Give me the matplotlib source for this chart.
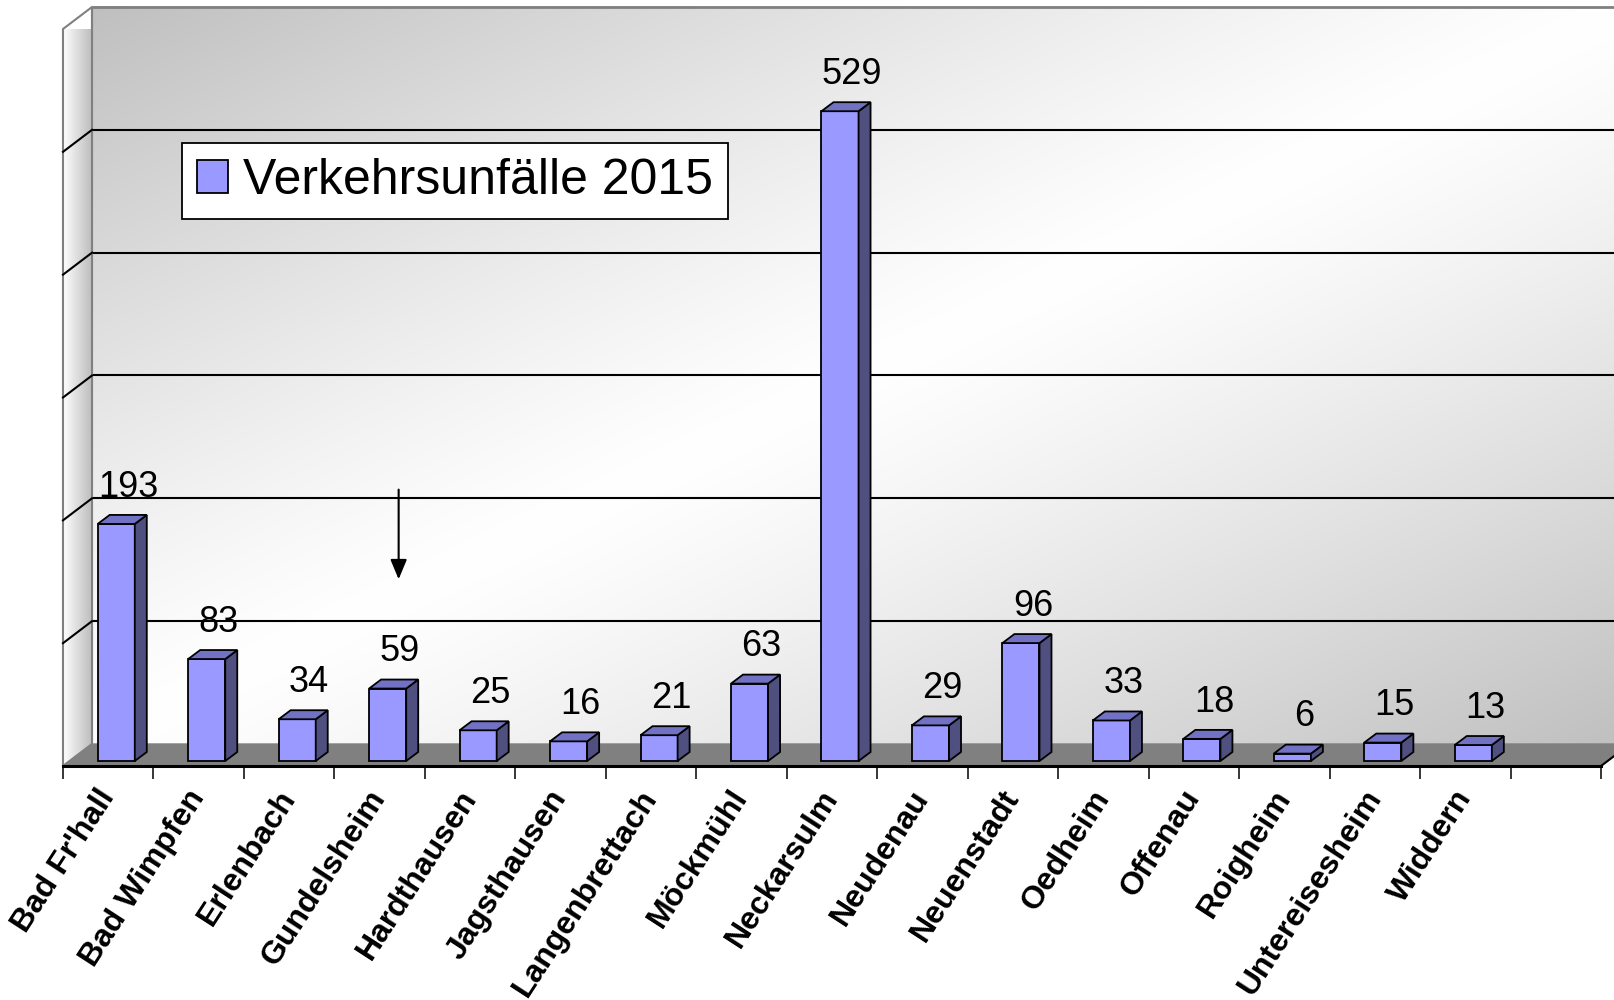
import numpy as np
import matplotlib
matplotlib.use("Agg")
import matplotlib.pyplot as plt
from matplotlib.patches import Polygon, Patch
from matplotlib.transforms import Affine2D, IdentityTransform

# Daten: Verkehrsunfälle 2015 je Gemeinde (letzte Kategorie bleibt leer)
orte = ["Bad Fr'hall", "Bad Wimpfen", "Erlenbach", "Gundelsheim", "Hardthausen",
        "Jagsthausen", "Langenbrettach", "Möckmühl", "Neckarsulm", "Neudenau",
        "Neuenstadt", "Oedheim", "Offenau", "Roigheim", "Untereisesheim", "Widdern", ""]
unfaelle = [193, 83, 34, 59, 25, 16, 21, 63, 529, 29, 96, 33, 18, 6, 15, 13]
gitter = [100, 200, 300, 400, 500]
serie = "Verkehrsunfälle 2015"

# Pfeil über Gundelsheim (Datenkoordinaten der Frontebene)
pfeil_x, pfeil_von, pfeil_bis = 3.71, 225, 152

W, H = 1614, 1000
plt.rcParams['font.family'] = ['Liberation Sans', 'DejaVu Sans']

fig = plt.figure(figsize=(W / 100, H / 100), dpi=100)
ax = fig.add_axes([63 / W, 234 / H, 1538 / W, 737 / H])
n = len(orte)
ax.set_xlim(0, n)
ax.set_ylim(0, 600)
ax.set_autoscale_on(False)
ax.patch.set_visible(False)
for s in ['top', 'right', 'left']:
    ax.spines[s].set_visible(False)
ax.spines['bottom'].set_linewidth(2.2)
ax.spines['bottom'].set_zorder(6)
ax.set_yticks([])

# Tiefenebenen (Versatz in Pixeln)
t_back = ax.transData + Affine2D().translate(29, 22)
t_front = ax.transData + Affine2D().translate(8, 5)
tiefe = np.array([12, 9])

# Rückwand mit diagonalem Verlauf
yy, xx = np.mgrid[0:1:200j, 0:1:400j]
u = (xx + yy) / 2
hell = 1 - 0.25 * np.abs(2 * u - 1) ** 1.2
ax.imshow(np.dstack([hell] * 3), extent=(0, n, 0, 600), transform=t_back,
          aspect='auto', clip_on=False, zorder=0, interpolation='bilinear')
ax.plot([0, n], [600, 600], transform=t_back, color='#808080', lw=2, clip_on=False, zorder=1)
ax.plot([0, 0], [0, 600], transform=t_back, color='#a0a0a0', lw=1.5, clip_on=False, zorder=1)
for v in gitter:
    ax.plot([0, n], [v, v], transform=t_back, color='black', lw=1.5, clip_on=False, zorder=1)

# Seitenwand
vf = ax.transData.transform([(0, 0), (0, 600)])
vb = t_back.transform([(0, 600), (0, 0)])
seite = Polygon(np.vstack([vf, vb]), closed=True, transform=IdentityTransform(),
                facecolor='none', edgecolor='#808080', lw=1.5, zorder=2, clip_on=False)
ax.add_patch(seite)
g = np.linspace(1.0, 0.82, 100) ** 1.5
img = ax.imshow(np.dstack([np.tile(g, (10, 1))] * 3),
                extent=(vf[0, 0], vb[0, 0], vf[0, 1], vb[0, 1]),
                transform=IdentityTransform(), aspect='auto', zorder=1.5,
                clip_on=True, interpolation='bilinear')
img.set_clip_path(seite)
for v in gitter:
    p = np.vstack([ax.transData.transform((0, v)), t_back.transform((0, v))])
    ax.plot(p[:, 0], p[:, 1], transform=IdentityTransform(), color='black', lw=1.5,
            clip_on=False, zorder=2)

# Boden
bf = ax.transData.transform([(0, 0), (n, 0)])
bb = t_back.transform([(n, 0), (0, 0)])
ax.add_patch(Polygon(np.vstack([bf, bb]), closed=True, transform=IdentityTransform(),
                     facecolor='#808080', edgecolor='#808080', lw=1, zorder=3, clip_on=False))
ax.plot([bf[1, 0], bb[0, 0]], [bf[1, 1], bb[0, 1]], transform=IdentityTransform(),
        color='black', lw=1.5, zorder=3, clip_on=False)

# Säulen
x = np.arange(len(unfaelle)) + 0.5
bars = ax.bar(x, unfaelle, width=0.41, transform=t_front, color='#9999ff',
              edgecolor='black', linewidth=1.3, zorder=4, clip_on=False)
for r in bars:
    x0, w, h = r.get_x(), r.get_width(), r.get_height()
    fl, fr, tr, tl = t_front.transform([(x0, 0), (x0 + w, 0), (x0 + w, h), (x0, h)])
    oben = [tl, tr, tr + tiefe, tl + tiefe]
    rechts = [fr, tr, tr + tiefe, fr + tiefe]
    for poly, col in ((rechts, '#4f4f80'), (oben, '#7272c4')):
        ax.add_patch(Polygon(poly, closed=True, transform=IdentityTransform(),
                             facecolor=col, edgecolor='black', lw=1.3, zorder=4,
                             clip_on=False, joinstyle='miter'))

# Werte über den Säulen
for xi, v in zip(x, unfaelle):
    ax.annotate(str(v), xy=(xi, v), xytext=(14.4, 30), textcoords='offset points',
                ha='center', va='center', fontsize=26, zorder=5)

# Achse unten
ax.set_xticks(np.arange(n + 1))
ax.set_xticklabels([])
ax.set_xticks(x.tolist() + [n - 0.5], minor=True)
ax.set_xticklabels(orte, minor=True, rotation=57, ha='right', va='center',
                   rotation_mode='anchor', fontweight='bold', fontsize=23)
ax.tick_params(axis='x', which='major', length=9.5, width=1.1, direction='out', color='black')
ax.tick_params(axis='x', which='minor', length=0, pad=19)

# Pfeil
ax.annotate('', xy=(pfeil_x, pfeil_bis), xytext=(pfeil_x, pfeil_von),
            arrowprops=dict(arrowstyle='-|>,head_length=0.6,head_width=0.25',
                            color='black', lw=1.5, mutation_scale=20,
                            shrinkA=0, shrinkB=0), zorder=5)

# Legende
leg = fig.legend(handles=[Patch(facecolor='#9999ff', edgecolor='black', lw=1.3, label=serie)],
                 loc='upper left', bbox_to_anchor=(182 / W, 1 - 143 / H), fontsize=36,
                 frameon=True, fancybox=False, framealpha=1, edgecolor='black',
                 borderpad=0.3, handlelength=0.62, handleheight=0.62, handletextpad=0.3,
                 borderaxespad=0)
leg.get_frame().set_linewidth(1.3)

fig.savefig('out.png', dpi=100)
